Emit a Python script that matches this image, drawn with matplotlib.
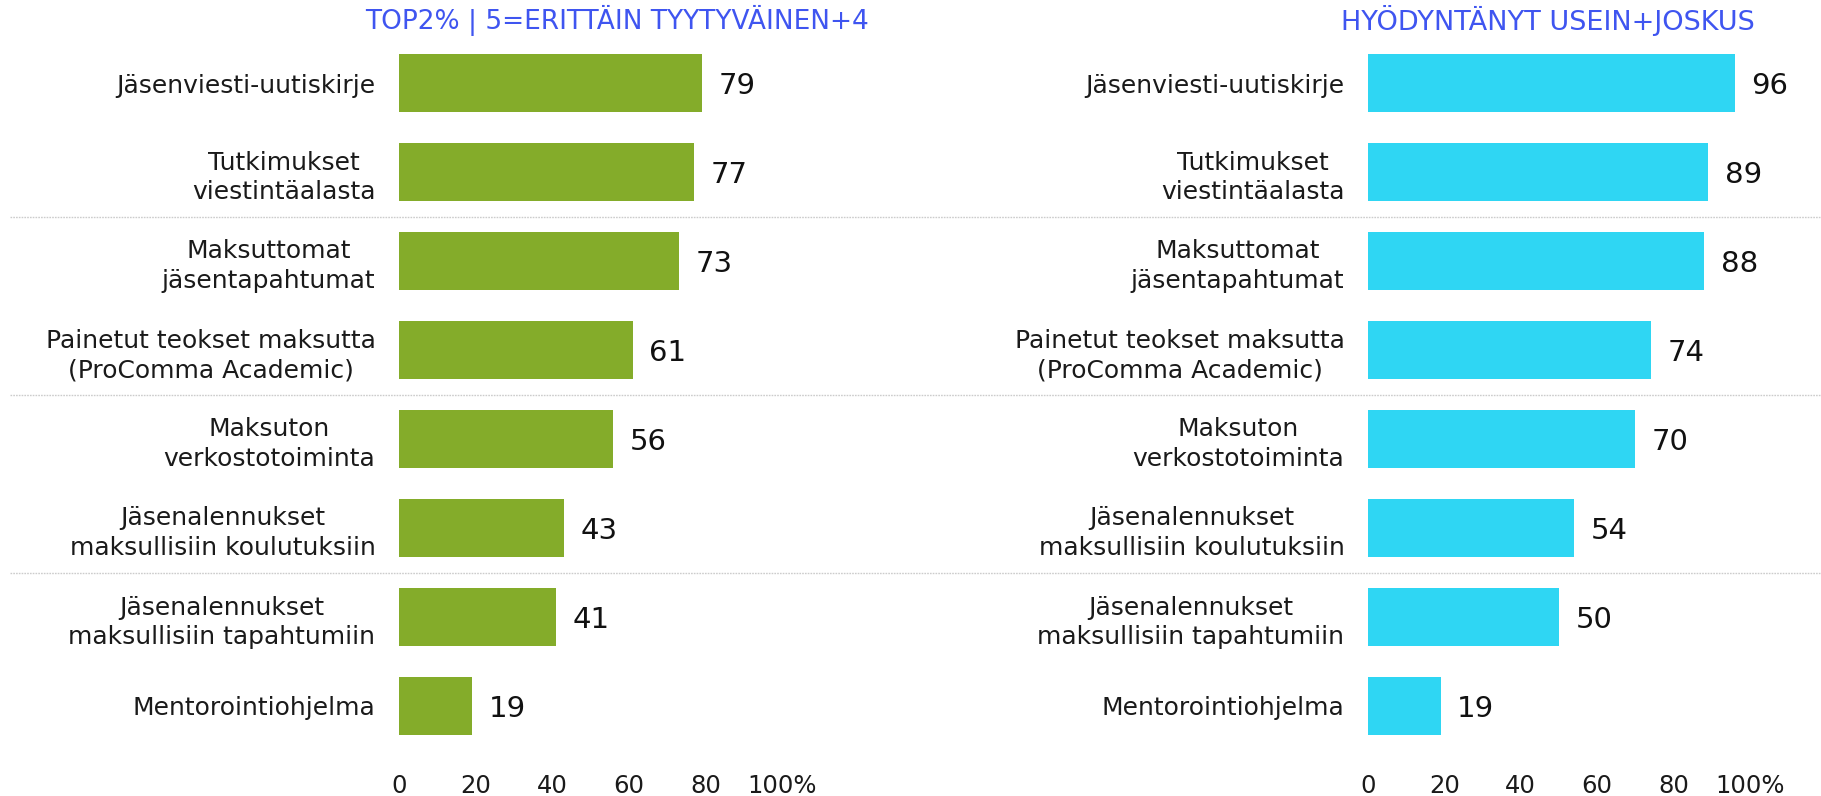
import matplotlib
matplotlib.use("Agg")
import matplotlib.pyplot as plt
from matplotlib.lines import Line2D
from matplotlib.transforms import blended_transform_factory

plt.rcParams['font.family'] = ['DejaVu Sans']

categories = [
    "Jäsenviesti-uutiskirje",
    "Tutkimukset\nviestintäalasta",
    "Maksuttomat\njäsentapahtumat",
    "Painetut teokset maksutta\n(ProComma Academic)",
    "Maksuton\nverkostotoiminta",
    "Jäsenalennukset\nmaksullisiin koulutuksiin",
    "Jäsenalennukset\nmaksullisiin tapahtumiin",
    "Mentorointiohjelma",
]
satisfaction = [79, 77, 73, 61, 56, 43, 41, 19]
usage = [96, 89, 88, 74, 70, 54, 50, 19]
tick_values = [0, 20, 40, 60, 80, 100]
tick_labels = ["0", "20", "40", "60", "80", "100%"]
title_left = "TOP2% | 5=ERITTÄIN TYYTYVÄINEN+4"
title_right = "HYÖDYNTÄNYT USEIN+JOSKUS"
separators_after = [1, 3, 5]

green = "#84ac2a"
cyan = "#2fd6f3"
title_color = "#3f55f0"

W, H = 1821, 796
fig = plt.figure(figsize=(W / 100, H / 100), dpi=100)

ax_bottom = 1 - 750.5 / H
ax_height = 712 / H
axL = fig.add_axes([399 / W, ax_bottom, 383 / W, ax_height])
axR = fig.add_axes([1368 / W, ax_bottom, 382 / W, ax_height])

ypos = list(range(len(categories)))
for ax, vals, color in [(axL, satisfaction, green), (axR, usage, cyan)]:
    bars = ax.barh(ypos, vals, height=0.65, color=color, edgecolor="none")
    ax.set_xlim(0, 100)
    ax.set_ylim(len(categories) - 0.5, -0.5)
    ax.set_yticks(ypos)
    ax.set_yticklabels(categories, fontsize=18, color="#1a1a1a",
                       multialignment="center", linespacing=1.3)
    ax.set_xticks(tick_values)
    ax.set_xticklabels(tick_labels, fontsize=17.5, color="#1a1a1a")
    ax.tick_params(axis="y", length=0, pad=17)
    ax.tick_params(axis="x", length=0, pad=17)
    for s in ax.spines.values():
        s.set_visible(False)
    for b, v in zip(bars, vals):
        ax.annotate(f"{v}", xy=(b.get_width(), b.get_y() + b.get_height() / 2),
                    xytext=(12, 0), textcoords="offset points",
                    ha="left", va="center_baseline", fontsize=21, color="#111111",
                    annotation_clip=False)

# dotted separators across the whole figure
tr = blended_transform_factory(fig.transFigure, axL.transData)
for i in separators_after:
    fig.add_artist(Line2D([10 / W, 1.0], [i + 0.5, i + 0.5], transform=tr,
                          color="#cccccc", linewidth=1.0, linestyle=(0, (1.2, 0.8))))

fig.text(617 / W, 1 - 20 / H, title_left, ha="center", va="center",
         fontsize=19, color=title_color)
fig.text(1548 / W, 1 - 20 / H, title_right, ha="center", va="center",
         fontsize=19.5, color=title_color)

fig.savefig("out.png", dpi=100)
